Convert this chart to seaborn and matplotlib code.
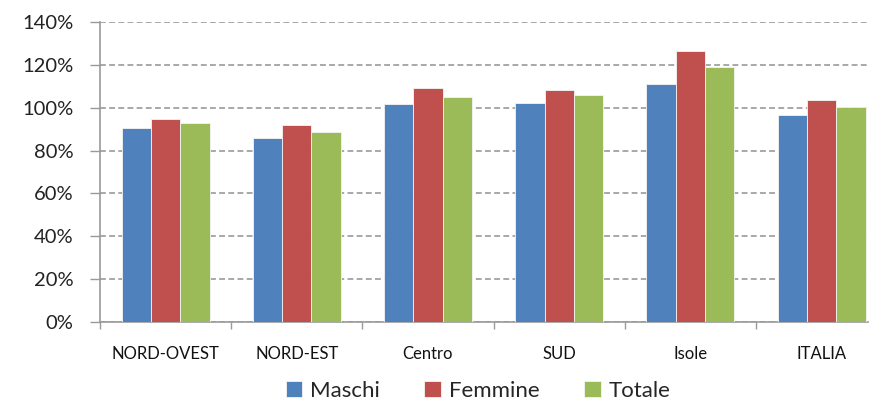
import pandas as pd
import seaborn as sns
import matplotlib.pyplot as plt
from matplotlib.ticker import FuncFormatter, FixedLocator

regioni = ['NORD-OVEST', 'NORD-EST', 'Centro', 'SUD', 'Isole', 'ITALIA']
maschi = [90.7, 86.0, 101.9, 102.4, 111.2, 96.8]
femmine = [94.7, 91.9, 109.2, 108.4, 126.5, 103.8]
totale = [92.7, 88.7, 105.2, 105.8, 118.9, 100.3]
serie = ['Maschi', 'Femmine', 'Totale']
colori = ['#4F81BD', '#C0504D', '#9BBB59']

df = pd.DataFrame({'Area': regioni, 'Maschi': maschi, 'Femmine': femmine, 'Totale': totale})
df = df.melt(id_vars='Area', var_name='Serie', value_name='Valore')

sns.set_style('white')
plt.rcParams['font.family'] = ['Lato', 'DejaVu Sans']

fig = plt.figure(figsize=(8.74, 4.01), dpi=100)
ax = fig.add_axes([100 / 874, 1 - 322 / 401, 768 / 874, 300 / 401])

sns.barplot(data=df, x='Area', y='Valore', hue='Serie', hue_order=serie,
            palette=colori, saturation=1, width=0.67, edgecolor='#f4f4f4',
            linewidth=0.6, ax=ax, zorder=3)

ax.set_ylim(0, 140)
ax.set_xlim(-0.5, 5.354)
ax.set_yticks(range(0, 141, 20))
ax.yaxis.set_major_formatter(FuncFormatter(lambda v, p: '%d%%' % v))
ax.yaxis.grid(True, linestyle=(0, (3.5, 2)), color='#999999', linewidth=1.2, zorder=0)
ax.xaxis.grid(False)
ax.set_axisbelow(True)

for s in ['top', 'right']:
    ax.spines[s].set_visible(False)
for s in ['left', 'bottom']:
    ax.spines[s].set_color('#999999')
    ax.spines[s].set_linewidth(1.2)

ax.tick_params(axis='y', which='major', left=True, length=7, width=1, color='#999999',
               labelsize=14.5, labelcolor='#222222', pad=12)
ax.tick_params(axis='x', which='major', length=0, labelsize=12, labelcolor='#111111', pad=17)
ax.xaxis.set_minor_locator(FixedLocator([-0.5, 0.5, 1.5, 2.5, 3.5, 4.5]))
ax.tick_params(axis='x', which='minor', bottom=True, length=5, width=1, color='#999999')

ax.set_xlabel('')
ax.set_ylabel('')

handles, labels = ax.get_legend_handles_labels()
ax.legend(handles, labels, loc='center', bbox_to_anchor=(478 / 874, 1 - 391 / 401),
          bbox_transform=fig.transFigure, ncol=3, frameon=False, fontsize=16,
          handlelength=0.75, handleheight=0.75, handletextpad=0.35, columnspacing=2.0)

fig.savefig('out.png', dpi=100)
